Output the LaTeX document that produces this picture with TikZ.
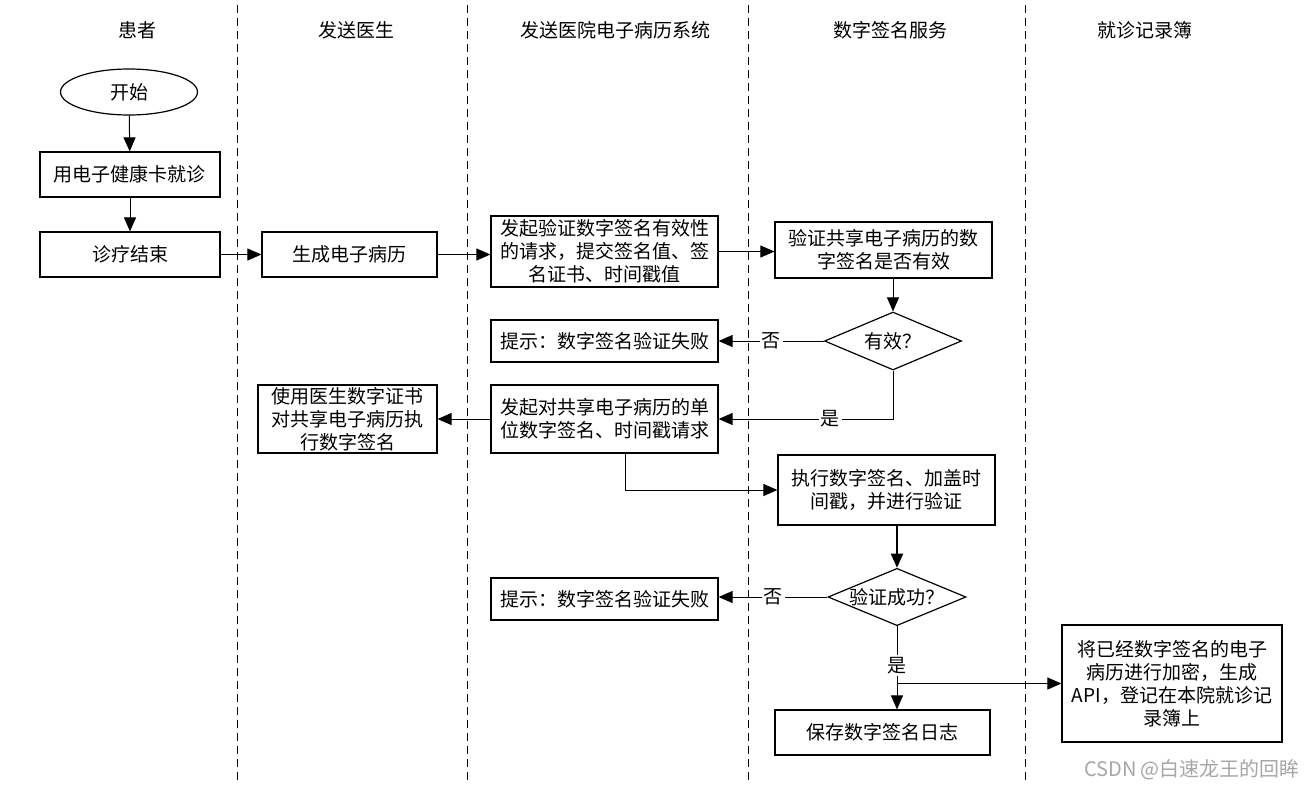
\documentclass[tikz,border=0pt]{standalone}
\usepackage{fontspec}
\setmainfont{Noto Sans CJK SC}
\usetikzlibrary{shapes.geometric,arrows.meta}

\begin{document}
\begin{tikzpicture}[x=0.5pt, y=-0.5pt]
			\tikzset{boite/.style={rectangle, draw=black, line width=0.6pt, align=center, inner sep=0pt, font=\fontsize{9.5}{11.5}\selectfont},
				losange/.style={diamond, draw=black, line width=0.6pt, aspect=2.4, inner sep=0pt, font=\fontsize{9.5}{11.5}\selectfont},
				titre/.style={font=\fontsize{9.5}{11.5}\selectfont},
				etiq/.style={fill=white, inner sep=1pt, font=\fontsize{9.5}{11.5}\selectfont},
				voie/.style={dash pattern=on 4pt off 2.5pt, line width=0.5pt},
				fleche/.style={line width=0.5pt, -{Triangle[length=7pt, width=6pt]}}};

			\useasboundingbox (0,0) rectangle (1314,788);

			% couloirs
			\foreach \x in {237,467,748,1025}
				\draw[voie] (\x,5) -- (\x,780);

			\node[titre] (h1) at ( 138, 30) {患者};
			\node[titre] (h2) at ( 356, 30) {发送医生};
			\node[titre] (h3) at ( 615, 30) {发送医院电子病历系统};
			\node[titre] (h4) at ( 890, 30) {数字签名服务};
			\node[titre] (h5) at (1145, 30) {就诊记录簿};

			\node[ellipse, draw=black, line width=0.6pt, minimum width=68.5pt, minimum height=23pt, titre] (debut) at (129, 92) {开始};
			\node[boite, minimum width=90pt, minimum height=22.5pt] (visite) at ( 130, 174.5) {用电子健康卡就诊};
			\node[boite, minimum width=90pt, minimum height=22.5pt] (fin) at ( 130, 254.5) {诊疗结束};
			\node[boite, minimum width=87.5pt, minimum height=22.5pt] (gen) at ( 349.5, 254.5) {生成电子病历};
			\node[boite, minimum width=113.5pt, minimum height=35.5pt] (req1) at ( 604.5, 251.5) {发起验证数字签名有效性\\的请求，提交签名值、签\\名证书、时间戳值};
			\node[boite, minimum width=108.5pt, minimum height=28pt] (verif) at ( 883.5, 250) {验证共享电子病历的数\\字签名是否有效};
			\node[losange, minimum width=68.5pt, minimum height=29pt] (v1) at ( 893, 341) {有效？};
			\node[boite, minimum width=113.5pt, minimum height=21pt] (echec1) at ( 604.5, 341) {提示：数字签名验证失败};
			\node[boite, minimum width=113.5pt, minimum height=34pt] (req2) at ( 604.5, 419) {发起对共享电子病历的单\\位数字签名、时间戳请求};
			\node[boite, minimum width=89.5pt, minimum height=34pt] (medecin) at ( 347.5, 419) {使用医生数字证书\\对共享电子病历执\\行数字签名};
			\node[boite, minimum width=108.5pt, minimum height=35pt] (signe) at ( 886.5, 490) {执行数字签名、加盖时\\间戳，并进行验证};
			\node[losange, minimum width=69pt, minimum height=27pt] (v2) at ( 897, 597) {验证成功？};
			\node[boite, minimum width=113.5pt, minimum height=21pt] (echec2) at ( 604.5, 599) {提示：数字签名验证失败};
			\node[boite, minimum width=107.5pt, minimum height=22.5pt] (journal) at ( 882.5, 732.5) {保存数字签名日志};
			\node[boite, minimum width=110pt, minimum height=58.5pt] (registre) at (1172, 683.5) {将已经数字签名的电子\\病历进行加密，生成\\API，登记在本院就诊记\\录簿上};
			\coordinate (fourche) at (897, 683.5);

			\node[font=\fontsize{10}{12}\selectfont, text=black!35] (csdn) at (1192, 770) {CSDN @白速龙王的回眸};

			\draw[fleche] (debut) to (visite);
			\draw[fleche] (visite) to (fin);
			\draw[fleche] (fin) to (gen);
			\draw[fleche] (gen.east) to (gen.east -| req1.west);
			\draw[fleche] (req1.east) to (req1.east -| verif.west);
			\draw[fleche] (v1.north |- verif.south) to (v1.north);
			\draw[fleche] (v1.west) to node[etiq, pos=0.5] {否} (echec1.east);
			\draw[fleche] (v1.south) |- node[etiq, pos=0.68] {是} (req2.east);
			\draw[fleche] (req2.west) to (medecin.east);
			\draw[fleche] ([xshift=10.5pt]req2.south) |- (signe.west);
			\draw[fleche, line width=1pt] (v2.north |- signe.south) to (v2.north);
			\draw[fleche] (v2.west) to node[etiq, pos=0.5] {否} (v2.west -| echec2.east);
			\draw[fleche] (v2.south) to node[etiq, pos=0.47] {是} (v2.south |- journal.north);
			\draw[fleche] (fourche) to (registre.west);

		\end{tikzpicture}
\end{document}
